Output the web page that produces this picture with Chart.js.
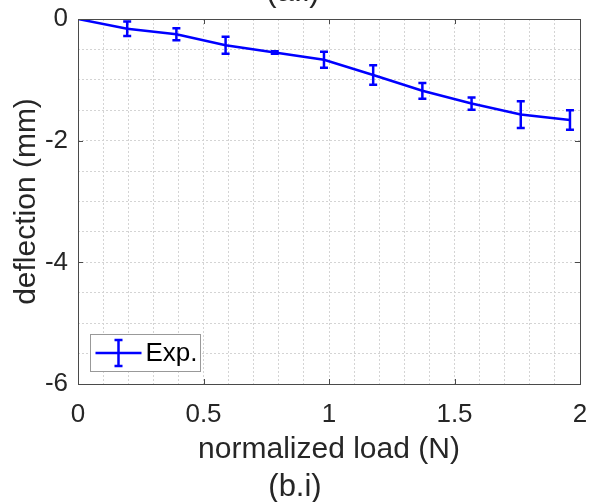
<!DOCTYPE html>
<html>
<head>
<meta charset="utf-8">
<script src="https://cdn.jsdelivr.net/npm/chart.js@4/dist/chart.umd.min.js"></script>
<style>
  html, body { margin: 0; padding: 0; background: #fff; }
  #plot { display: block; }
</style>
</head>
<body>
<canvas id="plot" width="589" height="502"></canvas>
<script>
/* deflection vs normalized load, with error bars (mean ± spread) */
const loads      = [0, 0.196, 0.392, 0.588, 0.784, 0.98, 1.176, 1.372, 1.568, 1.764, 1.96];
const deflection = [0, -0.16, -0.25, -0.43, -0.55, -0.67, -0.92, -1.18, -1.39, -1.57, -1.66];
const errors     = [0, 0.12, 0.10, 0.14, 0.02, 0.13, 0.16, 0.13, 0.10, 0.22, 0.16];

const xMajor = [0, 0.5, 1, 1.5, 2];
const yMajor = [0, -2, -4, -6];

const FONT = "'Liberation Sans', Arial, Helvetica, sans-serif";
const INK  = "#262626";
const BLUE = "#0000ff";

const isMajor = (v, list) => list.some(m => Math.abs(m - v) < 1e-6);

// error bars, box, inward ticks, legend and panel letters
const decor = {
  id: "decor",
  afterDatasetsDraw(chart) {
    const { ctx, scales: { x, y } } = chart;
    ctx.save();
    ctx.strokeStyle = BLUE;
    ctx.lineWidth = 2.5;
    loads.forEach((l, i) => {
      const e = errors[i];
      if (!e) return;
      const px = x.getPixelForValue(l);
      const top = y.getPixelForValue(deflection[i] + e);
      const bot = y.getPixelForValue(deflection[i] - e);
      ctx.beginPath();
      ctx.moveTo(px, top); ctx.lineTo(px, bot);
      ctx.moveTo(px - 4, top); ctx.lineTo(px + 4, top);
      ctx.moveTo(px - 4, bot); ctx.lineTo(px + 4, bot);
      ctx.stroke();
    });
    ctx.restore();
  },
  afterDraw(chart) {
    const { ctx, chartArea: a, scales: { x, y } } = chart;
    ctx.save();
    // axes box
    ctx.strokeStyle = "#4a4a4a";
    ctx.lineWidth = 1;
    ctx.strokeRect(Math.round(a.left) + 0.5, Math.round(a.top) + 0.5,
                   Math.round(a.right - a.left), Math.round(a.bottom - a.top));
    // major ticks pointing inward
    ctx.beginPath();
    xMajor.forEach(v => {
      const px = Math.round(x.getPixelForValue(v)) + 0.5;
      ctx.moveTo(px, a.bottom); ctx.lineTo(px, a.bottom - 5);
      ctx.moveTo(px, a.top); ctx.lineTo(px, a.top + 5);
    });
    yMajor.forEach(v => {
      const py = Math.round(y.getPixelForValue(v)) + 0.5;
      ctx.moveTo(a.left, py); ctx.lineTo(a.left + 5, py);
      ctx.moveTo(a.right, py); ctx.lineTo(a.right - 5, py);
    });
    ctx.stroke();

    // legend box
    const lx = 90.5, ly = 334.5, lw = 110, lh = 37;
    ctx.fillStyle = "#fff";
    ctx.fillRect(lx, ly, lw, lh);
    ctx.strokeStyle = "#999";
    ctx.strokeRect(lx, ly, lw, lh);
    const my = ly + lh / 2;
    ctx.strokeStyle = BLUE;
    ctx.lineWidth = 2.5;
    ctx.beginPath();
    ctx.moveTo(lx + 5, my); ctx.lineTo(lx + 51, my);
    ctx.moveTo(lx + 28, my - 13); ctx.lineTo(lx + 28, my + 13);
    ctx.moveTo(lx + 24, my - 13); ctx.lineTo(lx + 32, my - 13);
    ctx.moveTo(lx + 24, my + 13); ctx.lineTo(lx + 32, my + 13);
    ctx.stroke();
    ctx.fillStyle = "#000";
    ctx.font = "26px " + FONT;
    ctx.textAlign = "left";
    ctx.textBaseline = "middle";
    ctx.fillText("Exp.", lx + 55, my + 1);

    // panel letters
    ctx.fillStyle = INK;
    ctx.font = "31px " + FONT;
    ctx.textAlign = "center";
    ctx.textBaseline = "alphabetic";
    ctx.fillText("(a.i)", 293, 1);
    ctx.fillText("(b.i)", 295, 496);
    ctx.restore();
  }
};

new Chart(document.getElementById("plot"), {
  type: "line",
  data: {
    datasets: [{
      label: "Exp.",
      data: loads.map((l, i) => ({ x: l, y: deflection[i] })),
      borderColor: BLUE,
      borderWidth: 2.5,
      pointRadius: 0,
      tension: 0,
      fill: false
    }]
  },
  options: {
    responsive: false,
    animation: false,
    layout: { padding: { top: 19, right: 9, left: 0, bottom: 0 } },
    plugins: { legend: { display: false }, tooltip: { enabled: false } },
    scales: {
      x: {
        type: "linear",
        min: 0, max: 2,
        afterFit: s => { s.height = 118; s.paddingLeft = 0; s.paddingRight = 0; },
        grid: { color: "#d4d4d4", lineWidth: 1, drawTicks: false },
        border: { display: false, dash: [2, 2] },
        ticks: {
          stepSize: 0.1,
          maxTicksLimit: 100,
          autoSkip: false,
          maxRotation: 0,
          padding: 15,
          color: INK,
          font: { family: FONT, size: 26 },
          callback: v => isMajor(v, xMajor) ? String(Math.round(v * 10) / 10) : ""
        },
        title: {
          display: true,
          text: "normalized load (N)",
          color: INK,
          font: { family: FONT, size: 30, lineHeight: 1 },
          padding: { top: 0, bottom: 37 }
        }
      },
      y: {
        type: "linear",
        min: -6, max: 0,
        afterFit: s => { s.width = 78; s.paddingTop = 0; s.paddingBottom = 0; },
        grid: { color: "#d4d4d4", lineWidth: 1, drawTicks: false },
        border: { display: false, dash: [2, 2] },
        ticks: {
          stepSize: 0.5,
          maxTicksLimit: 100,
          autoSkip: false,
          padding: 10,
          color: INK,
          font: { family: FONT, size: 26 },
          callback: v => isMajor(v, yMajor) ? String(Math.round(v)) : ""
        },
        title: {
          display: true,
          text: "deflection (mm)",
          color: INK,
          font: { family: FONT, size: 30, lineHeight: 1 },
          padding: { top: 12, bottom: 0 }
        }
      }
    }
  },
  plugins: [decor]
});
</script>
</body>
</html>
